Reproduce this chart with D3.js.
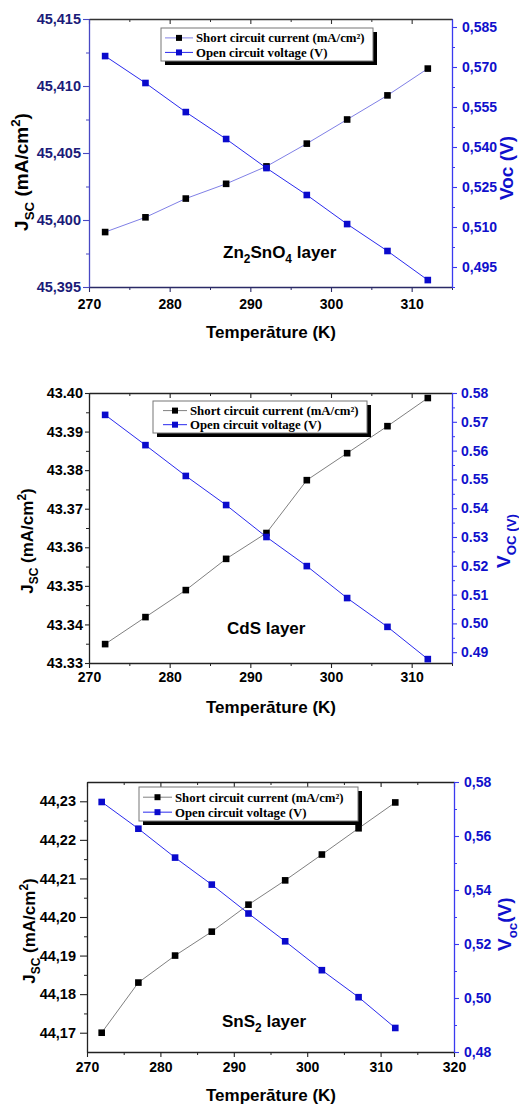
<!DOCTYPE html>
<html>
<head>
<meta charset="utf-8">
<script src="https://cdn.jsdelivr.net/npm/d3@7"></script>
<style>
  body { margin: 0; background: #fff; }
  svg { display: block; }
</style>
</head>
<body>
<div id="chart"></div>
<script>
// temperatures (K) shared by the three layers
const temps = [272, 277, 282, 287, 292, 297, 302, 307, 312];

// Zn2SnO4 layer
const jscZn = [45.3991, 45.4002, 45.4016, 45.4027, 45.4040, 45.4057, 45.4075, 45.4093, 45.4113];
const vocZn = [0.5741, 0.5640, 0.5531, 0.5430, 0.5321, 0.5220, 0.5111, 0.5010, 0.4901];
// CdS layer
const jscCdS = [43.3349, 43.3419, 43.3489, 43.3570, 43.3637, 43.3774, 43.3844, 43.3914, 43.3987];
const vocCdS = [0.5724, 0.5619, 0.5512, 0.5411, 0.5300, 0.5199, 0.5088, 0.4988, 0.4876];
// SnS2 layer
const jscSnS2 = [44.1700, 44.1830, 44.1900, 44.1962, 44.2032, 44.2095, 44.2162, 44.2230, 44.2297];
const vocSnS2 = [0.5726, 0.5627, 0.5520, 0.5420, 0.5313, 0.5210, 0.5103, 0.5003, 0.4889];

// tick values
const xTicksA = [270, 280, 290, 300, 310];
const xTicksB = [270, 280, 290, 300, 310, 320];
const jscTicksZn = [45.395, 45.400, 45.405, 45.410, 45.415];
const vocTicksZn = [0.495, 0.510, 0.525, 0.540, 0.555, 0.570, 0.585];
const jscTicksCdS = [43.33, 43.34, 43.35, 43.36, 43.37, 43.38, 43.39, 43.40];
const vocTicksCdS = [0.49, 0.50, 0.51, 0.52, 0.53, 0.54, 0.55, 0.56, 0.57, 0.58];
const jscTicksSnS2 = [44.17, 44.18, 44.19, 44.20, 44.21, 44.22, 44.23];
const vocTicksSnS2 = [0.48, 0.50, 0.52, 0.54, 0.56, 0.58];

const legendLabels = ["Short circuit current (mA/cm\u00B2)", "Open circuit voltage (V)"];

const SANS = "'Liberation Sans', Arial, sans-serif";
const SERIF = "'Liberation Serif', 'Times New Roman', serif";
const BLUE = "#1010cc";

const svg = d3.select("#chart").append("svg")
  .attr("width", 519).attr("height", 1104)
  .style("background", "#fff");

// text with sub / superscript pieces
function rich(sel, parts, fs) {
  let shift = 0;
  parts.forEach(p => {
    let target = 0;
    if (p.sub) target = fs * 0.3;
    if (p.sup) target = -fs * 0.4;
    sel.append("tspan")
      .attr("dy", target - shift)
      .attr("font-size", (p.sub || p.sup) ? fs * 0.7 : fs)
      .text(p.t);
    shift = target;
  });
}

function minorOf(ticks) {
  const out = [];
  for (let i = 0; i < ticks.length - 1; i++) out.push((ticks[i] + ticks[i + 1]) / 2);
  return out;
}

function drawPanel(p) {
  const x = d3.scaleLinear().domain(p.xDomain).range([p.left, p.right]);
  const yL = d3.scaleLinear().domain(p.leftDomain).range([p.bottom, p.top]);
  const yR = d3.scaleLinear().domain(p.rightDomain).range([p.bottom, p.top]);
  const g = svg.append("g");

  const xMinor = minorOf(p.xTicks).concat([p.xTicks[p.xTicks.length - 1] + 5]).filter(v => v <= p.xDomain[1]);
  const lMinor = minorOf(p.leftTicks).filter(v => v >= p.leftDomain[0] && v <= p.leftDomain[1]);
  const rMinor = minorOf(p.rightTicks).concat([p.rightTicks[0] - (p.rightTicks[1] - p.rightTicks[0]) / 2])
    .filter(v => v >= p.rightDomain[0] && v <= p.rightDomain[1]);

  function styleAxis(a, color, textColor, fs) {
    a.select(".domain").attr("stroke", color).attr("stroke-width", 1.3);
    a.selectAll(".tick line").attr("stroke", color).attr("stroke-width", 1.1);
    a.selectAll(".tick text").attr("fill", textColor)
      .attr("font-family", SANS).attr("font-weight", "bold").attr("font-size", fs);
  }

  // top (inward ticks, no labels)
  const top = g.append("g").attr("transform", `translate(0,${p.top})`)
    .call(d3.axisTop(x).tickValues(p.xTicks).tickSize(-5).tickSizeOuter(0).tickFormat(""));
  g.append("g").attr("transform", `translate(0,${p.top})`)
    .call(d3.axisTop(x).tickValues(xMinor).tickSize(-3).tickSizeOuter(0).tickFormat(""))
    .call(a => { a.select(".domain").remove(); a.selectAll("line").attr("stroke", p.topColor); });
  styleAxis(top, p.topColor, "#000", 14);

  // bottom
  const bot = g.append("g").attr("transform", `translate(0,${p.bottom})`)
    .call(d3.axisBottom(x).tickValues(p.xTicks).tickSize(5).tickSizeOuter(0).tickPadding(p.xPad));
  g.append("g").attr("transform", `translate(0,${p.bottom})`)
    .call(d3.axisBottom(x).tickValues(xMinor).tickSize(3).tickSizeOuter(0).tickFormat(""))
    .call(a => { a.select(".domain").remove(); a.selectAll("line").attr("stroke", p.bottomColor); });
  styleAxis(bot, p.bottomColor, "#000", 14);

  // left
  const lfmt = v => d3.format(p.leftFmt)(v).replace(".", p.dec);
  const left = g.append("g").attr("transform", `translate(${p.left},0)`)
    .call(d3.axisLeft(yL).tickValues(p.leftTicks).tickSize(p.lTick).tickSizeOuter(0)
      .tickPadding(p.lPad).tickFormat(lfmt));
  g.append("g").attr("transform", `translate(${p.left},0)`)
    .call(d3.axisLeft(yL).tickValues(lMinor).tickSize(3).tickSizeOuter(0).tickFormat(""))
    .call(a => { a.select(".domain").remove(); a.selectAll("line").attr("stroke", p.leftColor); });
  styleAxis(left, p.leftColor, p.leftText, p.lFs);

  // right
  const rfmt = v => d3.format(p.rightFmt)(v).replace(".", p.dec);
  const right = g.append("g").attr("transform", `translate(${p.right},0)`)
    .call(d3.axisRight(yR).tickValues(p.rightTicks).tickSize(5).tickSizeOuter(0)
      .tickPadding(p.rPad).tickFormat(rfmt));
  g.append("g").attr("transform", `translate(${p.right},0)`)
    .call(d3.axisRight(yR).tickValues(rMinor).tickSize(3).tickSizeOuter(0).tickFormat(""))
    .call(a => { a.select(".domain").remove(); a.selectAll("line").attr("stroke", "#3a3af0"); });
  styleAxis(right, "#3a3af0", BLUE, 14);

  // series
  const jscPts = temps.map((t, i) => [t, p.jsc[i]]);
  const vocPts = temps.map((t, i) => [t, p.voc[i]]);
  g.append("path").datum(jscPts)
    .attr("fill", "none").attr("stroke", p.jscLine).attr("stroke-width", 1)
    .attr("d", d3.line().x(d => x(d[0])).y(d => yL(d[1])));
  g.append("path").datum(vocPts)
    .attr("fill", "none").attr("stroke", "#2a2aee").attr("stroke-width", 1)
    .attr("d", d3.line().x(d => x(d[0])).y(d => yR(d[1])));
  g.selectAll(".mj").data(jscPts).join("rect")
    .attr("x", d => x(d[0]) - 3.3).attr("y", d => yL(d[1]) - 3.3)
    .attr("width", 6.6).attr("height", 6.6).attr("fill", "#000");
  g.selectAll(".mv").data(vocPts).join("rect")
    .attr("x", d => x(d[0]) - 3.3).attr("y", d => yR(d[1]) - 3.3)
    .attr("width", 6.6).attr("height", 6.6).attr("fill", "#0a0acc");

  // legend
  const L = p.legend;
  g.append("rect").attr("x", L.x + 4).attr("y", L.y + 4).attr("width", L.w).attr("height", L.h).attr("fill", "#000");
  g.append("rect").attr("x", L.x).attr("y", L.y).attr("width", L.w).attr("height", L.h)
    .attr("fill", "#fff").attr("stroke", "#777").attr("stroke-width", 1);
  const lineCols = [p.jscLine, "#2a2aee"];
  const markCols = ["#000", "#0a0acc"];
  legendLabels.forEach((lab, i) => {
    const cy = L.y + L.h * (i === 0 ? 0.3 : 0.74);
    g.append("line").attr("x1", L.x + L.i0).attr("x2", L.x + L.i1).attr("y1", cy).attr("y2", cy)
      .attr("stroke", lineCols[i]).attr("stroke-width", 1);
    g.append("rect").attr("x", L.x + (L.i0 + L.i1) / 2 - 3).attr("y", cy - 3)
      .attr("width", 6).attr("height", 6).attr("fill", markCols[i]);
    g.append("text").attr("x", L.x + L.i1 + 3).attr("y", cy + 4.5)
      .attr("font-family", SERIF).attr("font-weight", "bold").attr("font-size", L.fs)
      .attr("fill", "#000").text(lab);
  });

  // layer name
  const ln = g.append("text").attr("x", p.layerX).attr("y", p.layerY)
    .attr("font-family", SANS).attr("font-weight", "bold").attr("fill", "#000");
  rich(ln, p.layerParts, 17);

  // axis titles
  g.append("text").attr("x", 271).attr("y", p.xTitleY).attr("text-anchor", "middle")
    .attr("font-family", SANS).attr("font-weight", "bold").attr("font-size", 17).attr("fill", "#000")
    .text("Temper\u0101ture (K)");

  const lt = g.append("text")
    .attr("transform", `translate(${p.lTitleX},${p.lTitleY}) rotate(-90)`)
    .attr("text-anchor", "middle").attr("font-family", SANS).attr("font-weight", "bold").attr("fill", "#000");
  rich(lt, [{ t: "J" }, { t: "SC", sub: true }, { t: " (mA/cm" }, { t: "2", sup: true }, { t: ")" }], p.lTitleFs);

  const rt = g.append("text")
    .attr("transform", `translate(${p.rTitleX},${p.rTitleY}) rotate(-90)`)
    .attr("text-anchor", p.rAnchor).attr("font-family", SANS).attr("font-weight", "bold").attr("fill", BLUE);
  rich(rt, p.rParts, 19);
}

drawPanel({
  left: 89, right: 452, top: 19, bottom: 287,
  xDomain: [270, 315], leftDomain: [45.395, 45.415], rightDomain: [0.4875, 0.588],
  xTicks: xTicksA, leftTicks: jscTicksZn, rightTicks: vocTicksZn,
  jsc: jscZn, voc: vocZn, leftFmt: ".3f", rightFmt: ".3f", dec: ",",
  topColor: "#333", bottomColor: "#2a2a66", leftColor: "#4848c4", leftText: "#1b1b78",
  xPad: 7, lTick: 6, lPad: 2, lFs: 14.5, rPad: 5,
  jscLine: "#8080e6",
  legend: { x: 161, y: 28, w: 212, h: 33, i0: 4, i1: 32, fs: 12.8 },
  layerX: 223, layerY: 258,
  layerParts: [{ t: "Zn" }, { t: "2", sub: true }, { t: "SnO" }, { t: "4", sub: true }, { t: " layer" }],
  xTitleY: 338, lTitleX: 28, lTitleY: 172, lTitleFs: 19,
  rTitleX: 513, rTitleY: 168, rAnchor: "middle", rParts: [{ t: "Voc (V)" }]
});

drawPanel({
  left: 89, right: 452, top: 393, bottom: 663,
  xDomain: [270, 315], leftDomain: [43.33, 43.40], rightDomain: [0.48625, 0.58],
  xTicks: xTicksA, leftTicks: jscTicksCdS, rightTicks: vocTicksCdS,
  jsc: jscCdS, voc: vocCdS, leftFmt: ".2f", rightFmt: ".2f", dec: ".",
  topColor: "#222", bottomColor: "#222", leftColor: "#222", leftText: "#000",
  xPad: 4, lTick: 4, lPad: 2, lFs: 14.5, rPad: 4,
  jscLine: "#808080",
  legend: { x: 153, y: 401, w: 214, h: 32, i0: 10, i1: 34, fs: 12.8 },
  layerX: 227, layerY: 634,
  layerParts: [{ t: "CdS layer" }],
  xTitleY: 713, lTitleX: 33, lTitleY: 541, lTitleFs: 17,
  rTitleX: 510, rTitleY: 568, rAnchor: "start", rParts: [{ t: "V" }, { t: "OC (V)", sub: true }]
});

drawPanel({
  left: 87, right: 454, top: 782, bottom: 1052,
  xDomain: [270, 320], leftDomain: [44.165, 44.235], rightDomain: [0.48, 0.58],
  xTicks: xTicksB, leftTicks: jscTicksSnS2, rightTicks: vocTicksSnS2,
  jsc: jscSnS2, voc: vocSnS2, leftFmt: ".2f", rightFmt: ".2f", dec: ",",
  topColor: "#222", bottomColor: "#222", leftColor: "#222", leftText: "#000",
  xPad: 5, lTick: 7, lPad: 4, lFs: 14.5, rPad: 5,
  jscLine: "#808080",
  legend: { x: 139, y: 787, w: 219, h: 34, i0: 4, i1: 33, fs: 12.8 },
  layerX: 222, layerY: 1027,
  layerParts: [{ t: "SnS" }, { t: "2", sub: true }, { t: " layer" }],
  xTitleY: 1101, lTitleX: 35, lTitleY: 931, lTitleFs: 17,
  rTitleX: 511, rTitleY: 951, rAnchor: "start", rParts: [{ t: "V" }, { t: "oc", sub: true }, { t: "(V)" }]
});
</script>
</body>
</html>
